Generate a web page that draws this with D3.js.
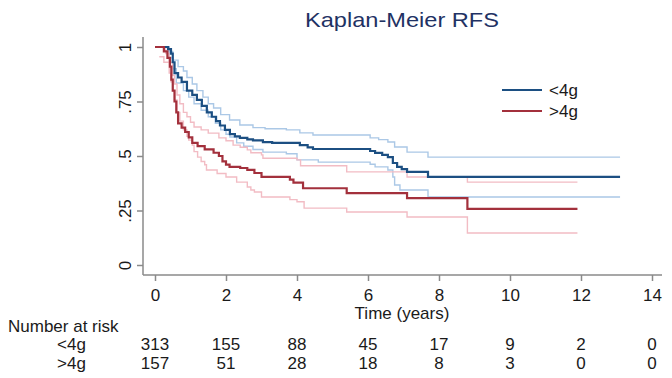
<!DOCTYPE html>
<html><head><meta charset="utf-8">
<script src="https://cdn.jsdelivr.net/npm/d3@7"></script>
<style>
body{margin:0;background:#fff;}
svg{display:block;}
text{font-family:"Liberation Sans",Arial,sans-serif;fill:#1a1a1a;}
</style></head>
<body>
<svg id="c" width="672" height="378"></svg>
<script>
// ---- data (time in years, survival probability) ----
const groups = ["<4g", ">4g"];
const xTicks = [0, 2, 4, 6, 8, 10, 12, 14];
const yTicks = [0, 0.25, 0.5, 0.75, 1];
const yTickLabels = ["0", ".25", ".5", ".75", "1"];
const riskLt4 = [313, 155, 88, 45, 17, 9, 2, 0];
const riskGt4 = [157, 51, 28, 18, 8, 3, 0, 0];

const lt4Est = [[0,1],[0.3,1],[0.37,0.99],[0.45,0.97],[0.5,0.93],[0.55,0.88],[0.65,0.86],[0.75,0.84],[0.9,0.80],[1.05,0.78],[1.18,0.757],[1.32,0.73],[1.46,0.70],[1.6,0.68],[1.72,0.66],[1.83,0.64],[1.97,0.62],[2.11,0.60],[2.25,0.59],[2.39,0.583],[2.6,0.576],[2.76,0.572],[3.04,0.564],[3.3,0.56],[4.08,0.55],[4.3,0.54],[4.45,0.532],[6.06,0.523],[6.2,0.514],[6.4,0.505],[6.56,0.495],[6.7,0.468],[6.82,0.45],[6.95,0.44],[7.1,0.427],[7.69,0.404],[13.1,0.404]];
const lt4Hi = [[0,1],[0.3,1],[0.37,0.98],[0.5,0.94],[0.65,0.91],[0.8,0.89],[0.9,0.86],[1.05,0.83],[1.18,0.80],[1.35,0.77],[1.5,0.74],[1.65,0.72],[1.85,0.69],[2.1,0.665],[2.39,0.642],[2.76,0.63],[3.1,0.625],[3.7,0.62],[4.08,0.606],[4.45,0.596],[6.06,0.583],[6.3,0.575],[6.56,0.564],[6.75,0.541],[7.1,0.518],[7.69,0.495],[13.1,0.495]];
const lt4Lo = [[0,1],[0.3,1],[0.4,0.95],[0.5,0.9],[0.6,0.835],[0.8,0.80],[0.95,0.77],[1.1,0.74],[1.3,0.71],[1.5,0.68],[1.7,0.65],[1.85,0.62],[2.0,0.60],[2.11,0.587],[2.3,0.56],[2.5,0.545],[2.76,0.53],[3.04,0.518],[3.7,0.51],[4.0,0.482],[4.6,0.472],[6.06,0.462],[6.2,0.45],[6.56,0.436],[6.7,0.404],[6.75,0.367],[6.9,0.344],[7.69,0.312],[13.1,0.312]];

const gt4Est = [[0,1],[0.15,1],[0.25,0.98],[0.35,0.95],[0.42,0.91],[0.46,0.85],[0.5,0.80],[0.55,0.75],[0.6,0.70],[0.65,0.65],[0.75,0.63],[0.85,0.61],[0.95,0.585],[1.05,0.56],[1.2,0.545],[1.4,0.53],[1.65,0.515],[1.8,0.50],[1.9,0.475],[2.0,0.46],[2.1,0.45],[2.4,0.445],[2.6,0.436],[2.8,0.422],[3.0,0.404],[3.8,0.392],[3.9,0.378],[4.17,0.352],[5.4,0.33],[7.1,0.307],[8.8,0.257],[11.9,0.257]];
const gt4Hi = [[0,1],[0.15,1],[0.3,0.97],[0.4,0.93],[0.5,0.87],[0.55,0.83],[0.62,0.78],[0.7,0.74],[0.8,0.70],[0.9,0.68],[1.0,0.655],[1.1,0.633],[1.3,0.62],[1.5,0.605],[1.8,0.583],[2.0,0.57],[2.2,0.55],[2.4,0.54],[2.6,0.528],[2.7,0.515],[3.0,0.505],[3.04,0.49],[4.0,0.482],[4.1,0.455],[5.4,0.427],[7.1,0.404],[8.8,0.38],[11.9,0.38]];
const gt4Lo = [[0.12,0.955],[0.25,0.93],[0.4,0.88],[0.45,0.84],[0.5,0.80],[0.55,0.757],[0.62,0.70],[0.7,0.66],[0.8,0.62],[0.9,0.59],[0.95,0.573],[1.05,0.55],[1.1,0.52],[1.2,0.495],[1.3,0.475],[1.4,0.46],[1.45,0.436],[1.75,0.42],[2.0,0.404],[2.3,0.38],[2.6,0.358],[2.7,0.344],[2.8,0.335],[3.0,0.312],[3.8,0.30],[4.0,0.29],[4.2,0.261],[5.4,0.243],[7.1,0.22],[8.8,0.147],[11.9,0.147]];

// ---- drawing ----
const svg = d3.select("#c");
const x = d3.scaleLinear().domain([0, 14]).range([155, 652]);
const y = d3.scaleLinear().domain([0, 1]).range([265, 47]);
const axisCol = "#8a8a8a";
const FS = 17;

// title
svg.append("text").attr("x", 402).attr("y", 27).attr("text-anchor", "middle")
  .attr("font-size", 21).attr("textLength", 194).attr("lengthAdjust", "spacingAndGlyphs")
  .style("fill", "#1f3264").text("Kaplan-Meier  RFS");

// axes
const yAxis = svg.append("g").attr("transform", "translate(143,0)")
  .call(d3.axisLeft(y).tickValues(yTicks).tickSize(6).tickFormat((d, i) => yTickLabels[i]));
yAxis.select(".domain").attr("d", "M0,37V275");
yAxis.selectAll(".tick text").attr("transform", "translate(-12,0) rotate(-90)")
  .attr("x", 0).attr("y", 0).attr("dy", 0).attr("text-anchor", "middle")
  .attr("font-size", FS).style("font-family", "Liberation Sans, Arial, sans-serif");

const xAxis = svg.append("g").attr("transform", "translate(0,275)")
  .call(d3.axisBottom(x).tickValues(xTicks).tickSize(6).tickFormat(d3.format("d")));
xAxis.select(".domain").attr("d", "M143,0H662");
xAxis.selectAll(".tick text").attr("y", 26).attr("dy", 0).attr("font-size", FS)
  .style("font-family", "Liberation Sans, Arial, sans-serif");

svg.selectAll(".domain, .tick line").attr("stroke", axisCol).attr("stroke-width", 1.5);
svg.selectAll(".tick text").style("fill", "#1a1a1a");

svg.append("text").attr("x", 402).attr("y", 319).attr("text-anchor", "middle")
  .attr("font-size", FS).text("Time (years)");

// curves
const line = d3.line().x(d => x(d[0])).y(d => y(d[1])).curve(d3.curveStepAfter);
const series = [
  {d: lt4Hi, c: "#abc8e6", w: 1.4},
  {d: lt4Lo, c: "#abc8e6", w: 1.4},
  {d: gt4Hi, c: "#f2bcc4", w: 1.4},
  {d: gt4Lo, c: "#f2bcc4", w: 1.4},
  {d: lt4Est, c: "#1c4f82", w: 2.2},
  {d: gt4Est, c: "#a3303c", w: 2.2}
];
svg.append("g").selectAll("path").data(series).join("path")
  .attr("d", s => line(s.d)).attr("fill", "none")
  .attr("stroke", s => s.c).attr("stroke-width", s => s.w);

// legend
const leg = [{t: groups[0], c: "#1c4f82", y: 90}, {t: groups[1], c: "#a3303c", y: 111}];
const lg = svg.append("g").selectAll("g").data(leg).join("g");
lg.append("line").attr("x1", 502).attr("x2", 542).attr("y1", d => d.y).attr("y2", d => d.y)
  .attr("stroke", d => d.c).attr("stroke-width", 2.2);
lg.append("text").attr("x", 549).attr("y", d => d.y + 6).attr("font-size", FS).text(d => d.t);

// number at risk
svg.append("text").attr("x", 8).attr("y", 332).attr("font-size", FS).text("Number at risk");
const rows = [{lab: groups[0], v: riskLt4, y: 350}, {lab: groups[1], v: riskGt4, y: 369}];
rows.forEach(r => {
  svg.append("text").attr("x", 57).attr("y", r.y).attr("font-size", FS).text(r.lab);
  svg.append("g").selectAll("text").data(r.v).join("text")
    .attr("x", (d, i) => x(xTicks[i])).attr("y", r.y).attr("text-anchor", "middle")
    .attr("font-size", FS).text(d => d);
});
</script>
</body></html>
